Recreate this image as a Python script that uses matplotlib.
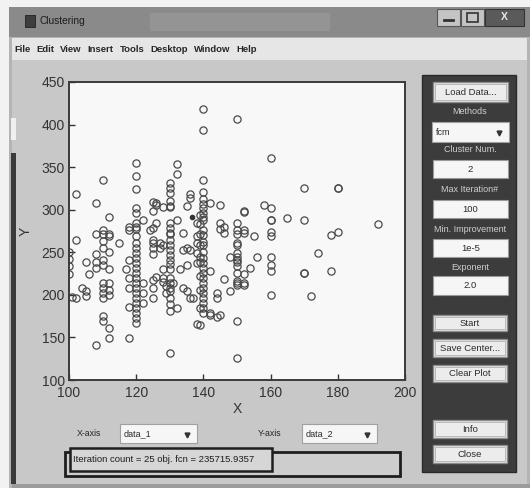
import matplotlib
matplotlib.use('Agg')
import matplotlib.pyplot as plt
from matplotlib.patches import Rectangle

plt.rcParams['font.family'] = ['Liberation Sans', 'DejaVu Sans']

# scatter data (data_1 on x, data_2 on y)
data_1 = [100, 100, 100, 100, 101, 102, 102, 102, 104, 105, 105, 105, 106,
          108, 108, 108, 108, 108, 108,
          110, 110, 110, 110, 110, 110, 110, 110, 110, 110, 110, 110, 110,
          112, 112, 112, 112, 112, 112, 112, 112, 112, 112,
          115, 117, 118, 118, 118, 118, 118, 118, 118,
          120, 120, 120, 120, 120, 120, 120, 120, 120, 120, 120, 120, 120,
          120, 120, 120, 120, 120, 120, 120, 120, 120, 120, 120, 120, 120,
          122, 122, 122, 122,
          124, 125, 125, 125, 125, 125, 125, 125, 125, 126, 125, 126, 126, 126, 125,
          127, 127, 128, 128, 128, 128, 129, 129, 128,
          130, 130, 130, 130, 130, 130, 130, 130, 130, 130, 130, 130, 130,
          130, 130, 130, 130, 130, 130, 130, 130, 130, 130, 130, 130,
          131, 132, 132, 132, 132,
          133, 134, 134, 134, 135, 135, 135, 135, 136, 136, 136, 136, 137,
          138, 138, 138, 138, 138, 138,
          139, 139, 139, 139, 139, 139, 139, 139, 139, 139,
          140, 140, 140, 140, 140, 140, 140, 140, 140, 140, 140, 140, 140, 140,
          140, 140, 140, 140, 140, 140, 140, 140, 140, 140, 140, 140, 140,
          142, 142, 142, 142, 144, 144, 144, 145, 145, 145, 145, 146, 146, 146,
          148, 148,
          150, 150, 150, 150, 150, 150, 150, 150, 150, 150, 150, 150, 150, 150,
          150, 150, 150,
          152, 152, 152, 152, 152, 152, 152, 154, 155, 156,
          158, 160, 160, 160, 160, 160, 160, 160, 160, 160, 160,
          165, 170, 170, 170, 170, 172, 174, 178, 178, 180, 180, 180, 192]
data_2 = [250, 242, 234, 224, 197, 318, 265, 196, 208, 204, 199, 239, 224,
          308, 272, 248, 239, 231, 141,
          335, 276, 272, 263, 255, 241, 235, 214, 208, 202, 196, 175, 169,
          291, 272, 269, 250, 230, 214, 206, 200, 161, 149,
          261, 230, 241, 220, 208, 186, 149, 280, 276,
          355, 340, 324, 302, 296, 284, 280, 277, 269, 261, 255, 249, 243,
          238, 232, 226, 220, 214, 208, 202, 196, 191, 185, 179, 173, 167,
          288, 214, 202, 191,
          276, 217, 208, 196, 278, 265, 255, 248, 309, 305, 299, 308, 284, 221, 261,
          261, 255, 303, 259, 230, 220, 210, 202, 215,
          331, 326, 320, 310, 304, 284, 273, 279, 271, 265, 259, 253, 247,
          241, 236, 230, 220, 214, 208, 204, 196, 189, 181, 132, 303,
          214, 354, 342, 288, 185,
          230, 208, 273, 253, 235, 304, 255, 204, 318, 314, 253, 196, 196,
          284, 269, 261, 249, 237, 166,
          294, 283, 271, 259, 245, 239, 222, 206, 185, 165,
          418, 394, 335, 321, 313, 307, 302, 296, 292, 288, 276, 270, 262, 258,
          250, 243, 238, 232, 226, 220, 214, 208, 202, 196, 191, 185, 179,
          308, 228, 179, 176, 202, 196, 174, 306, 284, 277, 176, 280, 273, 219,
          245, 204,
          407, 284, 276, 272, 261, 259, 249, 245, 241, 239, 234, 226, 216, 214,
          212, 169, 126,
          299, 297, 276, 273, 224, 214, 212, 231, 269, 245,
          305, 302, 361, 288, 288, 274, 269, 245, 235, 228, 200,
          290, 325, 288, 226, 226, 199, 249, 270, 228, 326, 326, 274, 283]
center_x = [136.5]
center_y = [292]

xticks = [100, 120, 140, 160, 180, 200]
yticks = [100, 150, 200, 250, 300, 350, 400, 450]
menu_items = ['File', 'Edit', 'View', 'Insert', 'Tools', 'Desktop', 'Window', 'Help']
menu_x = [14, 36, 60, 87, 120, 150, 194, 236]
status = 'Iteration count = 25 obj. fcn = 235715.9357'

fig = plt.figure(figsize=(5.3, 4.88), dpi=100)
fig.patch.set_facecolor('#f2f2f2')

# background "window", drawn in pixel coordinates
bg = fig.add_axes([0, 0, 1, 1])
bg.set_xlim(0, 530)
bg.set_ylim(488, 0)
bg.axis('off')


def rect(x0, y0, x1, y1, fc, ec='none', lw=1.0, z=1):
    bg.add_patch(Rectangle((x0, y0), x1 - x0, y1 - y0, facecolor=fc,
                           edgecolor=ec, linewidth=lw, zorder=z))


def button(x0, y0, x1, y1, label):
    rect(x0, y0, x1, y1, '#ececec', '#8a8a8a', 1.0, 3)
    rect(x0 + 2, y0 + 2, x1 - 2, y1 - 2, 'none', '#b0b0b0', 0.6, 3)
    bg.text((x0 + x1) / 2, (y0 + y1) / 2 + 0.5, label, ha='center', va='center',
            fontsize=6.8, color='#2a2a2a', zorder=4)


def field(x0, y0, x1, y1, val):
    rect(x0, y0, x1, y1, '#f6f6f6', '#9a9a9a', 0.8, 3)
    bg.text((x0 + x1) / 2, (y0 + y1) / 2 + 0.5, val, ha='center', va='center',
            fontsize=6.8, color='#2a2a2a', zorder=4)


def popup(x0, y0, x1, y1, val):
    rect(x0, y0, x1, y1, '#f6f6f6', '#a0a0a0', 0.8, 3)
    bg.text(x0 + 4, (y0 + y1) / 2 + 0.5, val, ha='left', va='center',
            fontsize=6.5, color='#2a2a2a', zorder=4)
    bg.plot([x1 - 10], [(y0 + y1) / 2 + 1], marker='v', ms=3.5,
            color='#333333', zorder=4)


def plabel(y, text):
    bg.text(470, y, text, ha='center', va='center', fontsize=6.5,
            color='#cfcfcf', zorder=4)


# frame, title bar, menu bar, body
rect(9, 7, 530, 488, '#b4b4b4')
rect(9, 7, 530, 37, '#8a8a8a')
rect(150, 13, 330, 31, '#949494')
rect(25, 15, 35, 27, '#3e3e3e', '#222222', 0.6, 2)
bg.text(39, 21, 'Clustering', ha='left', va='center', fontsize=7.3,
        color='#1c1c1c', zorder=4)
rect(437, 9, 460, 26, '#c4c4c4', '#555555', 0.8, 2)
bg.plot([444, 453], [20, 20], color='#333333', lw=2, zorder=3)
rect(461, 9, 484, 26, '#c4c4c4', '#555555', 0.8, 2)
rect(467, 13, 478, 22, 'none', '#333333', 1.2, 3)
rect(485, 9, 524, 26, '#5a5a5a', '#333333', 0.8, 2)
bg.text(504.5, 17.5, 'X', ha='center', va='center', fontsize=7.5,
        fontweight='bold', color='#e8e8e8', zorder=4)

rect(12, 38, 527, 60, '#e6e6e6')
for item, mx in zip(menu_items, menu_x):
    bg.text(mx, 49.5, item, ha='left', va='center', fontsize=6.8,
            fontweight='bold', color='#262626', zorder=4)

rect(12, 60, 527, 484, '#c8c8c8')
rect(12, 484, 530, 488, '#9c9c9c')
rect(11, 153, 16, 484, '#3a3a3a', z=2)
rect(11, 118, 16, 140, '#f0f0f0', z=2)

# right control panel
rect(422, 75, 516, 472, '#3c3c3c', '#2a2a2a', 1.0, 2)
button(433, 82, 508, 102, 'Load Data...')
plabel(111, 'Methods')
popup(432, 122, 509, 142, 'fcm')
plabel(150, 'Cluster Num.')
field(433, 160, 508, 178, '2')
plabel(190, 'Max Iteration#')
field(433, 200, 508, 218, '100')
plabel(230, 'Min. Improvement')
field(433, 239, 508, 257, '1e-5')
plabel(267, 'Exponent')
field(433, 276, 508, 295, '2.0')
button(433, 315, 507, 331, 'Start')
button(433, 339, 507, 357, 'Save Center...')
button(433, 365, 507, 382, 'Clear Plot')
button(433, 420, 507, 438, 'Info')
button(433, 445, 507, 463, 'Close')

# axis selectors and status line
bg.text(89, 433, 'X-axis', ha='center', va='center', fontsize=6.3,
        color='#262626', zorder=4)
popup(120, 424, 197, 443, 'data_1')
bg.text(270, 433, 'Y-axis', ha='center', va='center', fontsize=6.3,
        color='#262626', zorder=4)
popup(302, 424, 377, 443, 'data_2')
rect(65, 452, 400, 476, '#cdcdcd', '#1e1e1e', 2.0, 2)
rect(70, 448, 272, 471, '#d6d6d6', '#1e1e1e', 1.8, 3)
bg.text(73, 459.5, status, ha='left', va='center', fontsize=6.8,
        color='#1e1e1e', zorder=4)

# the scatter plot itself
ax = fig.add_axes([69 / 530, 1 - 380 / 488, 336 / 530, 298 / 488])
ax.set_facecolor('#f8f8f8')
ax.plot(data_1, data_2, linestyle='none', marker='o', ms=5.2,
        mfc='none', mec='#4a4a4a', mew=0.9)
ax.plot(center_x, center_y, linestyle='none', marker='o', ms=3,
        color='#333333')
ax.set_xlim(100, 200)
ax.set_ylim(100, 450)
ax.set_xticks(xticks)
ax.set_yticks(yticks)
ax.tick_params(direction='in', length=4, width=1, colors='#333333',
               labelsize=10, pad=3)
ax.tick_params(axis='x', pad=4)
for s in ax.spines.values():
    s.set_color('#3a3a3a')
    s.set_linewidth(1.4)
ax.set_xlabel('X', fontsize=10, color='#333333', labelpad=2)
ax.set_ylabel('Y', fontsize=10, color='#333333', labelpad=6)

fig.savefig('out.png', dpi=100, facecolor=fig.get_facecolor())
